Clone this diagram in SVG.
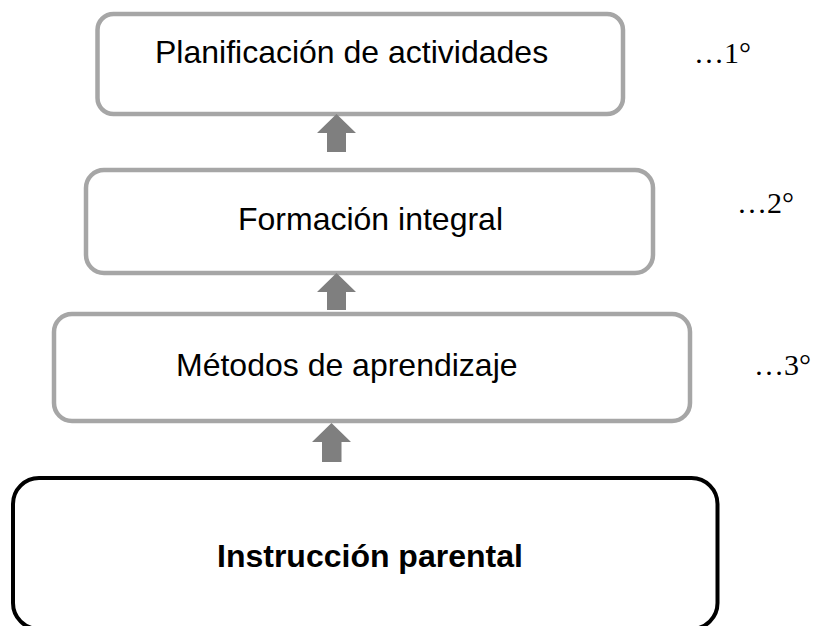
<svg xmlns="http://www.w3.org/2000/svg" width="816" height="626" viewBox="0 0 816 626">
<style>
.box{fill:#ffffff;stroke:#a6a6a6;stroke-width:4.5}
.base{fill:#ffffff;stroke:#000000;stroke-width:4}
.lbl{font-family:"Liberation Sans",Arial,sans-serif;font-size:32px;fill:#000}
.bold{font-weight:bold}
.ord{font-family:"Liberation Serif","Times New Roman",serif;font-size:30px;fill:#000}
.arr{fill:#7f7f7f}
</style>
<rect width="816" height="626" fill="#ffffff"/>
<g id="node-planificacion">
<rect class="box" x="97.5" y="14" width="525.5" height="100" rx="16"/>
<text class="lbl" x="155" y="63">Planificación de actividades</text>
</g>
<g id="node-formacion">
<rect class="box" x="86" y="170" width="567" height="103" rx="18"/>
<text class="lbl" x="238" y="230">Formación integral</text>
</g>
<g id="node-metodos">
<rect class="box" x="54" y="314" width="636" height="107" rx="18"/>
<text class="lbl" x="176" y="376">Métodos de aprendizaje</text>
</g>
<g id="node-instruccion">
<rect class="base" x="13" y="478" width="704.5" height="151" rx="26"/>
<text class="lbl bold" x="217" y="567">Instrucción parental</text>
</g>
<g id="ordinals">
<text class="ord" x="694" y="63">…1°</text>
<text class="ord" x="737" y="213">…2°</text>
<text class="ord" x="754" y="375">…3°</text>
</g>
<g id="connectors">
<polygon class="arr" points="336.5,114 356,133 346,133 346,152 327,152 327,133 317,133"/>
<polygon class="arr" points="336.5,273 356,292 346,292 346,310 327,310 327,292 317,292"/>
<polygon class="arr" points="331.5,423 351,442 341.5,442 341.5,462 322,462 322,442 312,442"/>
</g>
</svg>
